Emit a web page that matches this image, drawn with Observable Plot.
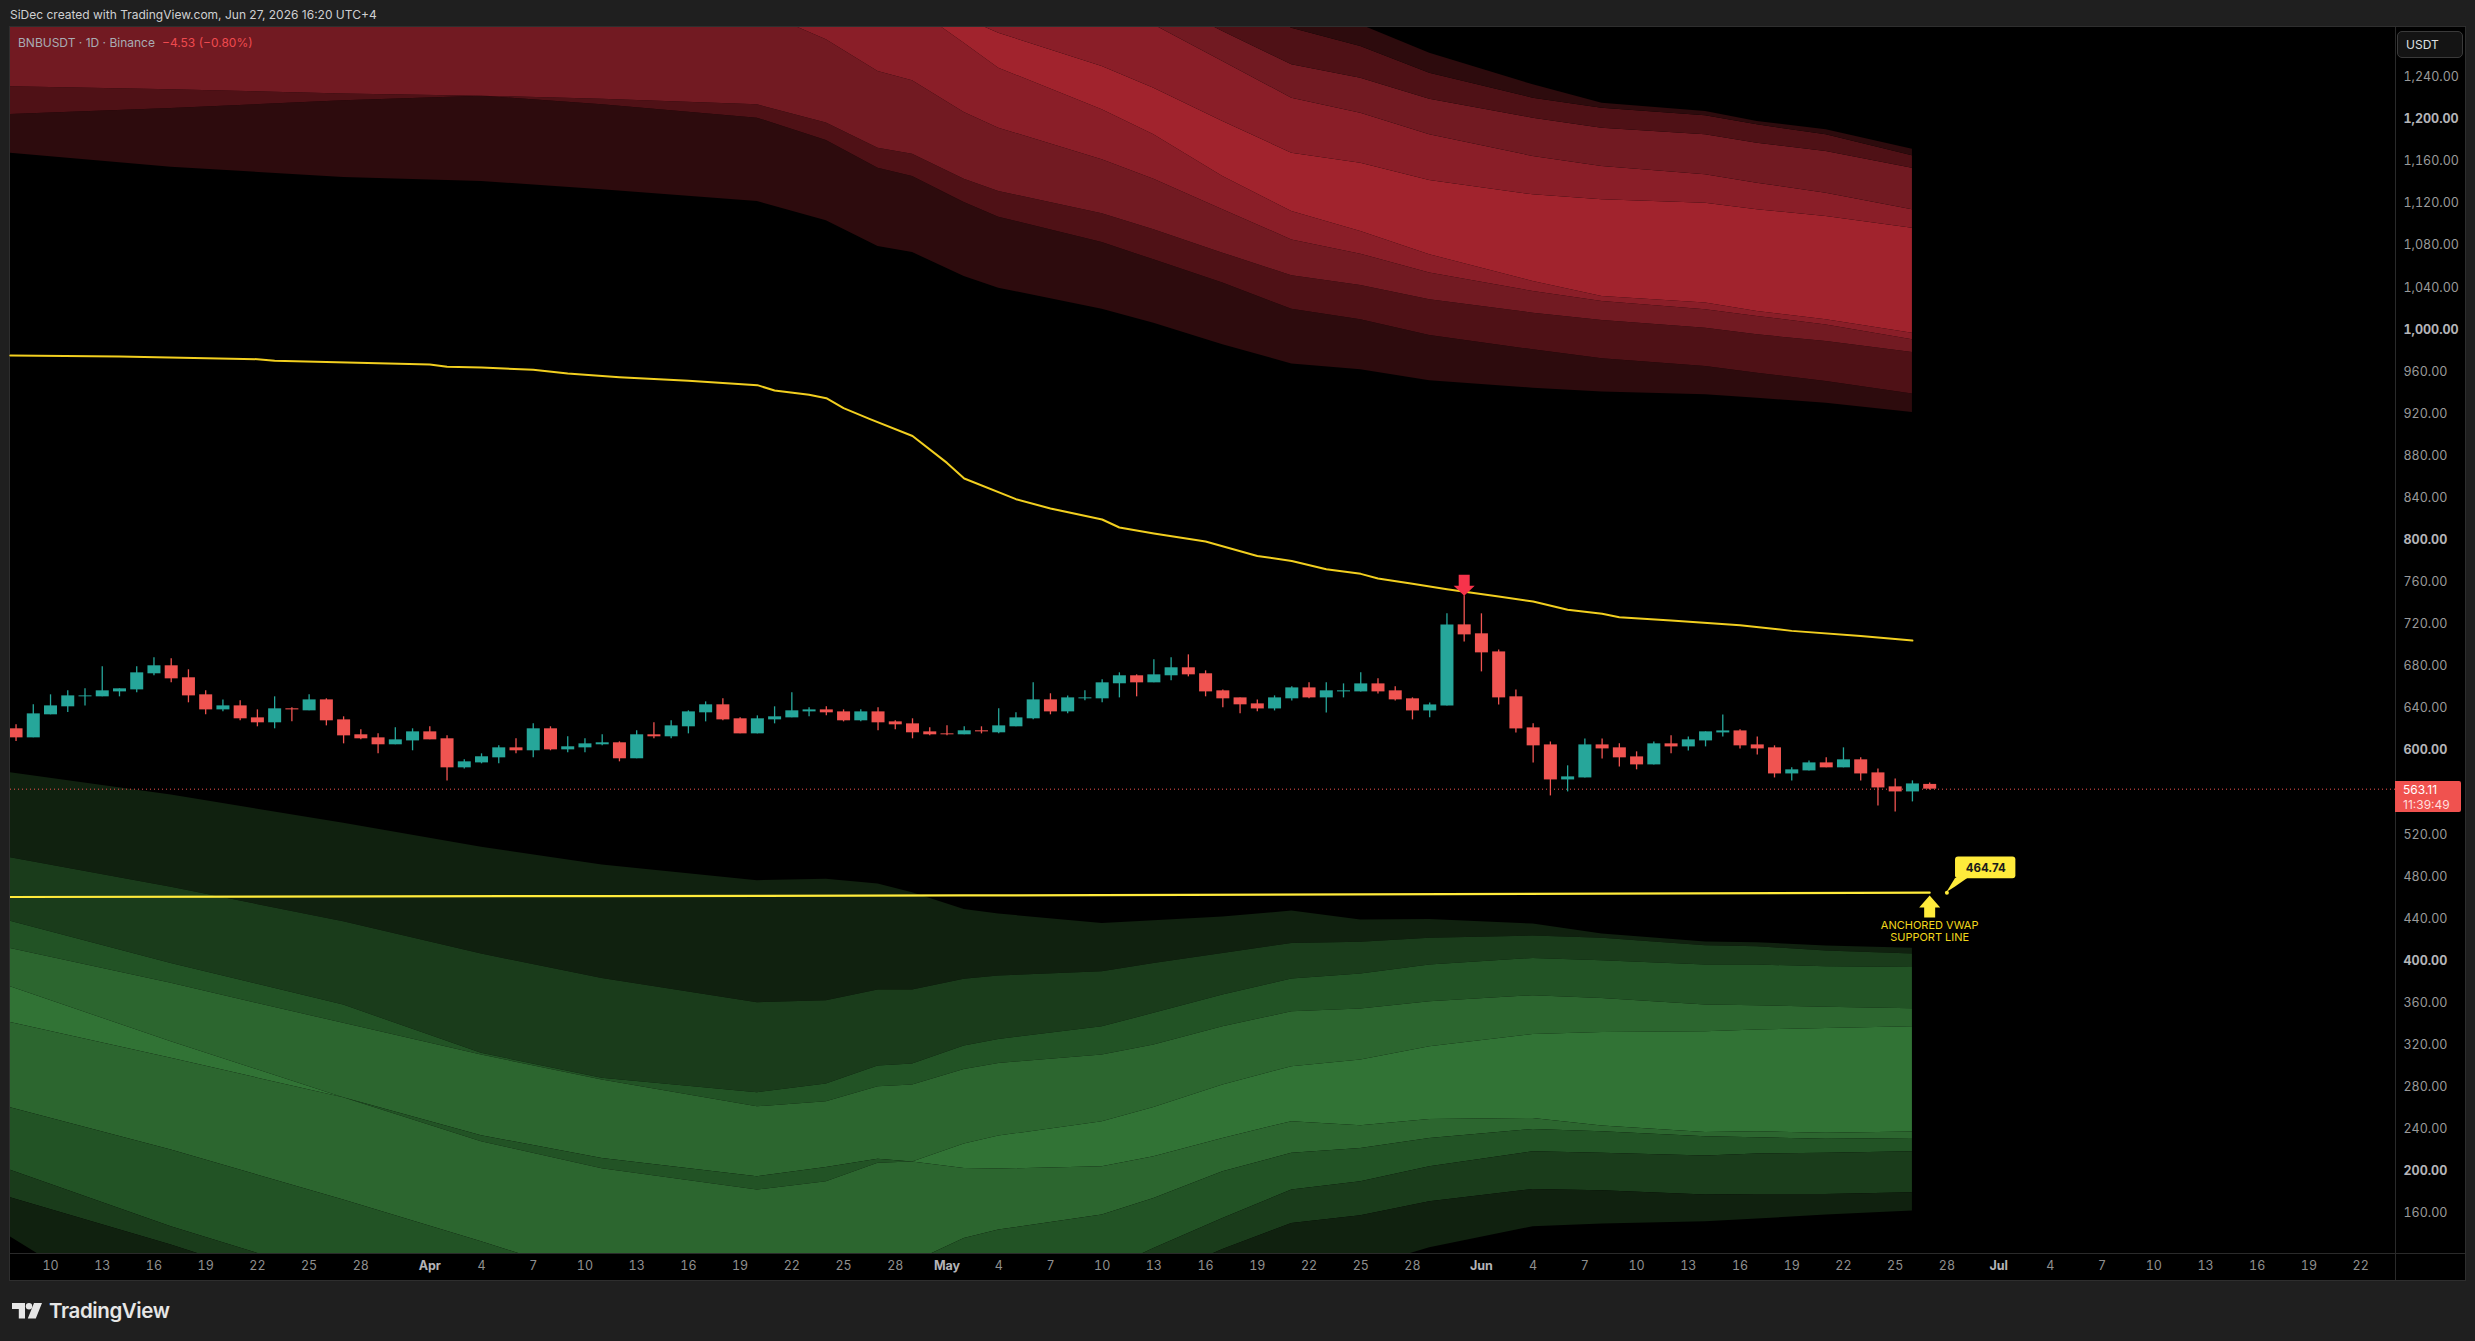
<!DOCTYPE html>
<html><head><meta charset="utf-8">
<script src="https://cdn.jsdelivr.net/npm/d3@7"></script>
<script src="https://cdn.jsdelivr.net/npm/@observablehq/plot@0.6"></script>
<style>
html,body{margin:0;padding:0;background:#1f1f1f;width:2475px;height:1341px;overflow:hidden;font-family:Inter,sans-serif}
.abs{position:absolute;white-space:nowrap}
</style></head><body>
<div class="abs" style="left:10px;top:27px;width:2455px;height:1253px;background:#000;box-shadow:0 0 0 1px #2e2e2e"></div>
<div class="abs" style="left:2395px;top:27px;width:1px;height:1253px;background:#2a2a2a"></div>
<div class="abs" style="left:10px;top:1253px;width:2455px;height:1px;background:#2a2a2a"></div>
<div id="chart"></div>
<div class="abs" style="left:10px;top:7px;font-size:12px;line-height:16px;color:#cfd0d2">SiDec created with TradingView.com, Jun 27, 2026 16:20 UTC+4</div>
<div class="abs" style="left:18px;top:35px;font-size:12px;line-height:16px;color:#a9acb3">BNBUSDT · 1D · Binance</div>
<div class="abs" style="left:162px;top:35px;font-size:12px;line-height:16px;color:#ef4a4f">−4.53 (−0.80%)</div>
<div class="abs" style="left:2397px;top:31px;width:64px;height:25px;border:1px solid #3a3a3a;border-radius:5px;background:#141414;color:#dfe0e2;font-size:12px;line-height:25px;padding-left:8px;box-sizing:content-box;width:56px">USDT</div>
<div class="abs" style="left:2395px;top:781px;width:66px;height:31px;background:#f0524f;border-radius:0 2px 2px 0;color:#fff;font-size:12px;line-height:15px;padding:1px 0 0 8px;box-sizing:border-box">563.11<br><span style="color:#ffdedd">11:39:49</span></div>
<svg class="abs" style="left:12px;top:1303px" width="30" height="16" viewBox="0 0 30 16"><path fill="#e6e6e6" d="M0 0h13v15.5H6.8V6H0zM22 0h8l-6.2 15.5h-8z"/><circle cx="17" cy="3.2" r="3.2" fill="#e6e6e6"/></svg>
<div class="abs" style="left:49px;top:1297px;font-size:20.5px;line-height:28px;font-weight:600;color:#e6e6e6;letter-spacing:-0.4px">TradingView</div>
<script>
// ---- candles, Mar 8 to Jun 27 2026 ----
const candleDates = d3.utcDay.range(new Date("2026-03-08T00:00Z"), new Date("2026-06-28T00:00Z"));
const opens = [620.5,611.9,633.8,641.4,650.9,650.9,655.6,657.5,672.8,680.4,669,652.8,638.5,642.3,630.9,626.2,639.5,637.6,648,629,614.8,611.9,605.3,609,617.6,611,583.4,588.1,592.9,602.4,599.6,620.5,600.5,602.4,605.3,607.2,
592,614.8,612.9,622.4,635.7,643.3,630,615.7,629,630.9,636.6,638.5,636.6,628.1,636.6,627.1,625.2,617.6,615.7,614.8,618.6,616.7,622.4,630,648,636.6,649,649,663.3,670.9,664.2,670.9,678.5,672.8,656.6,649.9,
644.2,639.4,649,659.4,649.9,655.6,655.6,663.2,656.6,649,637.5,642.3,719.3,710.8,693.6,650.9,621.4,605.2,571.9,573.8,605.2,602.4,593.8,586.2,606.2,603.3,609,616.6,618.5,605.2,602.4,577.6,580.5,588.1,583.4,591,578.6,565.3,560.5,567.64];
const closes = [611.9,634.7,642.3,651.8,651.8,656.6,658.5,673.7,680.4,668,651.8,638.5,642.3,630,626.2,639.5,638.5,648,628.1,613.8,611,605.3,610,617.6,610,583.4,589.1,593.9,602.4,599.6,620.5,600.5,603.4,606.2,607.2,592,
614.8,612.9,623.3,636.6,643.3,629,615.7,630,631.9,637.6,638.5,635.7,628.1,636.6,626.2,624.3,616.7,614.8,614.8,618.6,617.6,623.3,630.9,648,636.6,649.9,649.9,664.2,670.9,664.2,671.8,678.5,671.8,655.6,649,643.3,
639.4,649.9,659.4,649.9,656.6,656.6,663.2,655.6,648,637.5,643.2,719.3,709.8,692.7,649.9,620.4,604.3,571.9,574.8,605.2,601.4,592.9,586.2,606.2,603.3,610,617.6,618.5,604.3,601.4,577.6,581.5,588.1,583.4,591,577.6,564.3,560.5,568.1,563.11];
const highs = [624.3,643.3,652.8,656.6,658.5,679.4,658.5,679.4,688,687,676.6,656.6,648,647.1,638.5,650.9,640.4,652.8,649,631.9,619.5,615.7,621.4,620.5,622.4,613.8,591,596.7,604.3,611,625.2,622.4,612.9,611,614.8,608.1,
618.6,626.2,628.1,637.6,646.1,649,630.9,632.8,641.4,654.7,640.4,641.4,638.5,638.5,640.4,628.1,630,621.4,623.3,622.4,622.4,639.5,635.7,664.2,653.8,651.8,656.6,667.1,673.7,671.8,686.1,688,690.8,675.6,657.5,649.9,
648,651.8,660.4,664.2,664.2,663.2,673.7,668,660.4,649.9,645.1,729.8,746.9,729.8,695.5,657.5,625.2,608,585.3,610.9,610.9,606.2,598.6,608,613.8,612.8,617.6,633.7,619.5,612.8,604.3,583.4,590,592.9,602.4,592.9,582.4,572.9,571,569.1];
const lows = [608.4,611.9,633.8,636,642.3,650.9,650.9,654.7,670.9,664.2,645.2,633.8,636.6,628.1,622.4,620.5,627.1,637.6,623.3,606.2,610,596.7,605.3,599.6,610,571,582.4,587.2,587.2,596.7,592.9,599.6,597.7,597.7,604.3,589.1,
592,611,611,615.7,627.1,628.1,615.7,615.7,625.2,630.9,631.9,632.8,627.1,627.1,618.6,619.5,611,613.8,613.8,614.8,615.7,615.7,622.4,629,633.8,634.7,647.1,645.2,649.9,650.9,664.2,666.1,669.9,650.9,640.4,634.7,
636.6,637.5,647,649,635.6,649.9,655.6,653.7,647,629,630.9,642.3,703.1,674.6,643.2,616.6,588.1,556.7,560.5,573.8,591.9,584.3,581.5,586.2,596.7,599.5,603.3,612.8,601.4,595.7,573.8,571,580.5,583.4,583.4,571,547.2,541.5,551,562.4];

// ---- cloud boundaries, sampled at these dates ----
const bandDates = ["2026-03-07T16:00Z","2026-03-17","2026-03-27","2026-04-04","2026-04-11","2026-04-20","2026-04-24","2026-04-27","2026-04-29","2026-05-02","2026-05-04","2026-05-10","2026-05-13","2026-05-17","2026-05-21","2026-05-25","2026-05-29","2026-06-04","2026-06-08","2026-06-14","2026-06-17","2026-06-21","2026-06-26"].map(s => new Date(s));
// resistance cloud, lowest edge first
const r1 = [1167.7,1154.4,1144.6,1140.8,1132.9,1121.8,1103.4,1079,1073.3,1050.5,1039.4,1019.4,1006.1,985.5,967.4,961.8,951.3,944.3,940.8,938,934.8,930,921.2];
const r2 = [1204.5,1210.2,1217.5,1221.9,1213.7,1201,1179.8,1153.5,1145.6,1120.8,1106.9,1082.8,1066.3,1044.2,1019.4,1009.3,994.4,980.8,972.2,964.9,958.6,950.7,938.9];
const r3 = [1230.8,1228,1224.1,1221.9,1219.1,1213.7,1196.3,1172.5,1166.8,1143,1131.3,1110.1,1094.9,1072.7,1051.1,1041.9,1028.3,1015.6,1008.7,1001.4,995,988.7,978.2];
const r4 = [1310,1310,1310,1310,1310,1304,1275.5,1245.4,1236.5,1206.4,1191.5,1161.4,1143,1113.9,1085.3,1071.7,1053.7,1036.2,1026.7,1018.8,1012.5,1004.5,990.3];
const r5 = [1330,1330,1330,1330,1330,1330,1330,1330,1307,1272.3,1248.5,1208.9,1185.2,1145.6,1112.3,1093.3,1071.1,1045.8,1031.5,1025.2,1017.2,1009.3,996.6];
const r6 = [1350,1350,1350,1350,1350,1350,1350,1350,1350,1296,1281.8,1250.1,1229.5,1197.8,1167.7,1158.2,1141.8,1128.1,1123.4,1120.2,1113.9,1107.5,1096.4];
const r7 = [1370,1370,1370,1370,1370,1370,1370,1370,1370,1370,1370,1316.7,1289.7,1254.9,1220,1205.8,1185.2,1164.6,1155.1,1147.1,1139.2,1129.7,1113.9];
const r8 = [1390,1390,1390,1390,1390,1390,1390,1390,1390,1390,1390,1390,1316.7,1283.4,1251.7,1239,1219.1,1201,1191.5,1185.2,1177.2,1169.3,1153.5];
const r9 = [1410,1410,1410,1410,1410,1410,1410,1410,1410,1410,1410,1410,1410,1313.5,1286.6,1269.1,1243.8,1220,1210.5,1203.2,1194.7,1185.2,1165.2];
const r10 = [1430,1430,1430,1430,1430,1430,1430,1430,1430,1430,1430,1430,1430,1430,1313.5,1289.7,1262.8,1232.7,1215.3,1207.4,1197.8,1189.9,1171.5];
// support cloud, highest edge first
const g1 = [578.8,557.5,530.6,507.8,491,476.1,477.4,472.9,464.7,448.8,444.4,435.5,438,441.5,447.2,438.7,439.3,434.9,425.4,417.8,417.1,414,411.8];
const g2 = [497.9,469.8,437.1,406.4,383.2,360.1,362,372.1,372.1,382.3,385.5,389.6,397.5,407,416.5,417.5,421.3,423.5,421.3,414.3,413.3,409.2,406.4];
const g3 = [437.7,397.5,357.9,312,288.2,274.5,282.8,299.9,301.8,318.9,325.2,337.3,350,367.4,382.6,387.4,395.9,402.2,400,395.9,395.9,394.3,393.7];
const g4 = [411.8,378.5,340.5,310.3,286.6,261.2,266,280.2,281.8,296.7,302.4,310.3,319.9,337.3,351.5,354.1,361,366.8,364.2,357.9,357.2,355.7,354.4];
const g5 = [375.3,323,269.8,233.7,212.1,194.7,203.5,211.2,208.6,225.7,233.3,247,260.6,281.8,299.3,305.6,318.3,330,331.9,332.5,334.1,335.7,337.3];
const g6 = [341.4,307.2,269.8,228,202.3,182,189.9,207.4,208.6,202.6,202,204.2,213.7,231.1,247,243.2,249.2,250.1,242.9,236.8,237.5,235.9,237.1];
const g7 = [260.3,220,172.5,132.9,96.4,74.3,74.3,83.8,113,136,144,158.2,174,199.4,216.9,221.6,231.1,239.7,237.5,232.7,231.7,230.2,231.1];
const g8 = [201,147.2,96.4,80,70,60,60,60,60,60,68,103.4,126.5,155,182,189.9,204.2,218.4,216.9,214.3,216.2,216.9,218.4];
const g9 = [174.7,129.7,77.4,60,55,50,50,50,50,50,50,55,96.4,125.6,150.3,157.6,170.9,182.6,181.4,177.2,177.9,177.9,179.5];
const g10 = [137.6,42.6,40,40,40,40,40,40,40,40,40,40,40,40,93.3,107.5,127.2,147.2,149.7,151.9,154.4,158.2,162];

// ---- yellow lines ----
const upperDates = ["2026-03-07T16:00Z","2026-03-14","2026-03-22","2026-03-23","2026-04-01","2026-04-02","2026-04-04","2026-04-07","2026-04-09","2026-04-12","2026-04-16","2026-04-20","2026-04-21","2026-04-23","2026-04-24","2026-04-25","2026-04-26T12:00Z","2026-04-29","2026-05-01","2026-05-02","2026-05-05","2026-05-07","2026-05-10","2026-05-11","2026-05-13","2026-05-16","2026-05-19","2026-05-21","2026-05-23","2026-05-25","2026-05-26","2026-05-28","2026-05-30","2026-06-02","2026-06-04","2026-06-06","2026-06-08","2026-06-09","2026-06-12","2026-06-16","2026-06-19","2026-06-23","2026-06-26"].map(s => new Date(s));
const upperValues = [975.4,974.4,971.9,970.3,966.8,964.6,964,961.8,958.3,954.8,951.3,947.2,942.1,938,934.8,925.3,915.2,898.9,873.3,858.5,838.8,830,819.5,811.9,806.2,798.6,784.8,780.1,772.2,767.8,763.4,758.3,753.2,746.2,741.5,733.6,729.8,726.6,723.4,719,713.6,708.8,704.4];
const vwapDates = ["2026-03-07T16:00Z","2026-04-11","2026-05-02","2026-05-30","2026-06-27"].map(s => new Date(s));
const vwapValues = [460.6,461.5,462.1,463.4,464.74];
const lastPrice = 563.11;
const vwapLabel = 464.74;

// ---- axes ----
const priceTicks = d3.range(160, 1241, 40).filter(v => v !== 560 && v % 200 !== 0);
const priceTicksBold = [200,400,600,800,1000,1200];
const dayTicks = ["03-10","03-13","03-16","03-19","03-22","03-25","03-28","04-04","04-07","04-10","04-13","04-16","04-19","04-22","04-25","04-28","05-04","05-07","05-10","05-13","05-16","05-19","05-22","05-25","05-28","06-04","06-07","06-10","06-13","06-16","06-19","06-22","06-25","06-28","07-04","07-07","07-10","07-13","07-16","07-19","07-22"].map(s => new Date(`2026-${s}T00:00Z`));
const monthTicks = ["04-01","05-01","06-01","07-01"].map(s => new Date(`2026-${s}T00:00Z`));

const REDS = ["#2d0b0d","#4f1116","#721a22","#8a1e28","#a1232d"];
const GREENS = ["#10210f","#1a3c1b","#225325","#2c662f","#317335"];
const UP = "#26a69a", DOWN = "#f05451";

const band = (lo, hi, fill, keep) => Plot.areaY(bandDates, {
  x: bandDates, y1: lo, y2: hi, fill, clip: true, filter: keep
});
const downArrow = {draw(c){c.moveTo(0,0);c.lineTo(10.5,-10);c.lineTo(5.5,-10);c.lineTo(5.5,-21);c.lineTo(-5.5,-21);c.lineTo(-5.5,-10);c.lineTo(-10.5,-10);c.closePath();}};
const upArrow = {draw(c){c.moveTo(0,0);c.lineTo(10.5,12);c.lineTo(5.5,12);c.lineTo(5.5,22);c.lineTo(-5.5,22);c.lineTo(-5.5,12);c.lineTo(-10.5,12);c.closePath();}};
const up = i => closes[i] >= opens[i];
const YEL = "#ffeb3b";

const chart = Plot.plot({
  width: 2475, height: 1341,
  marginLeft: 10, marginRight: 80, marginTop: 27, marginBottom: 88,
  style: {background: "transparent", position: "absolute", left: 0, top: 0, fontFamily: "Inter, sans-serif", maxWidth: "none"},
  x: {type: "utc", domain: [new Date("2026-03-07T16:17Z"), new Date("2026-07-24T00:30Z")]},
  y: {type: "linear", domain: [121.7, 1287.2]},
  marks: [
    band(r1, r2, REDS[0]), band(r2, r3, REDS[1]), band(r3, r4, REDS[2]), band(r4, r5, REDS[3]), band(r5, r6, REDS[4]),
    band(r6, r7, REDS[3]), band(r7, r8, REDS[2]), band(r8, r9, REDS[1]), band(r9, r10, REDS[0]),
    band(g2, g1, GREENS[0]), band(g3, g2, GREENS[1]), band(g4, g3, GREENS[2]), band(g5, g4, GREENS[3]),
    band(g6, g5, GREENS[4], (_, i) => i <= 2),
    band(g6, g5, GREENS[2], (_, i) => i >= 2 && i <= 8),
    band(g6, g5, GREENS[4], (_, i) => i >= 8),
    band(g7, g6, GREENS[3]), band(g8, g7, GREENS[2]), band(g9, g8, GREENS[1]), band(g10, g9, GREENS[0]),
    Plot.line(upperDates, {x: upperDates, y: upperValues, stroke: "#f2cf1f", strokeWidth: 2}),
    Plot.ruleY([lastPrice], {stroke: DOWN, strokeWidth: 1, strokeDasharray: "1,3"}),
    Plot.line(vwapDates, {x: vwapDates, y: vwapValues, stroke: YEL, strokeWidth: 2.2, clip: true}),
    Plot.ruleX(candleDates, {x: candleDates, y1: lows, y2: highs, stroke: (_, i) => up(i) ? UP : DOWN, strokeWidth: 1.3, clip: true}),
    Plot.ruleX(candleDates, {x: candleDates, y1: opens, y2: closes, stroke: (_, i) => up(i) ? UP : DOWN, strokeWidth: 13, clip: true}),
    Plot.dot([0], {x: () => new Date("2026-05-31T00:00Z"), y: () => 746.9, symbol: downArrow, fill: "#f7334b", r: 5}),
    Plot.dot([0], {x: () => new Date("2026-06-27T00:00Z"), y: () => 462, symbol: upArrow, fill: YEL, r: 5}),
    Plot.text(["ANCHORED VWAP\nSUPPORT LINE"], {x: () => new Date("2026-06-27T00:00Z"), y: () => 428, text: d => d, fill: "#f2d71c", fontSize: 11, lineHeight: 1.02}),
    Plot.dot([0], {x: () => new Date("2026-06-28T00:00Z"), y: () => vwapLabel, fill: YEL, r: 2}),
    Plot.areaY([0,1,2], {x: i => [new Date("2026-06-28T00:00Z"), new Date("2026-06-28T12:00Z"), new Date("2026-06-29T05:00Z")][i], y1: i => [464.9,470.2,478.2][i], y2: i => [464.9,478.2,478.2][i], fill: YEL}),
    Plot.rect([0], {x1: () => new Date("2026-06-28T12:00Z"), x2: () => new Date("2026-07-02T00:00Z"), y1: () => 477.9, y2: () => 498.7, fill: YEL, rx: 3}),
    Plot.text([vwapLabel], {x: () => new Date("2026-06-30T06:00Z"), y: () => 488.3, text: d => d.toFixed(2), fill: "#1a1a1a", fontWeight: 700, fontSize: 11.5}),
    Plot.axisY(priceTicks, {anchor: "right", tickSize: 0, tickPadding: 8, label: null, tickFormat: d3.format(",.2f"), fill: "#9a9a9a", fontSize: 12.5}),
    Plot.axisY(priceTicksBold, {anchor: "right", tickSize: 0, tickPadding: 8, label: null, tickFormat: d3.format(",.2f"), fill: "#b4b4b8", fontWeight: 700, fontSize: 12.5}),
    Plot.axisX(dayTicks, {anchor: "bottom", tickSize: 0, tickPadding: 8, label: null, tickFormat: d3.utcFormat("%-d"), fill: "#8f8f8f", fontSize: 12.5}),
    Plot.axisX(monthTicks, {anchor: "bottom", tickSize: 0, tickPadding: 8, label: null, tickFormat: d3.utcFormat("%b"), fill: "#b4b4b8", fontWeight: 700, fontSize: 12.5})
  ]
});
document.getElementById("chart").append(chart);
</script>
</body></html>
